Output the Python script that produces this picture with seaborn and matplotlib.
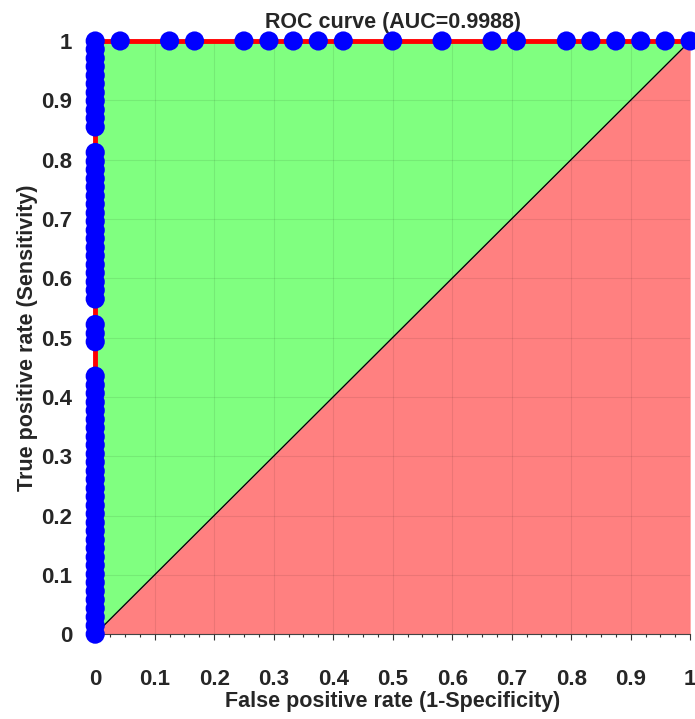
import numpy as np
import matplotlib
matplotlib.use("Agg")
import matplotlib.pyplot as plt
import seaborn as sns

# ROC points: first the x=0 column, then the top row
tpr_left = [0.0, 0.0145, 0.029, 0.0435, 0.058, 0.0725, 0.087, 0.101, 0.116, 0.130,
            0.145, 0.159, 0.174, 0.188, 0.203, 0.217, 0.232, 0.246, 0.261, 0.275,
            0.290, 0.304, 0.319, 0.333, 0.348, 0.362, 0.377, 0.391, 0.406, 0.420,
            0.435,
            0.493, 0.507, 0.522,
            0.565, 0.580, 0.594, 0.609, 0.623, 0.638, 0.652, 0.667, 0.681, 0.696,
            0.710, 0.725, 0.739, 0.754, 0.768, 0.783, 0.797, 0.812,
            0.855, 0.870, 0.884, 0.899, 0.913, 0.928, 0.942, 0.957, 0.971, 0.986, 1.0]
fpr_top = [0.042, 0.125, 0.167, 0.25, 0.292, 0.333, 0.375, 0.417, 0.5, 0.583,
           0.667, 0.708, 0.792, 0.833, 0.875, 0.917, 0.958, 1.0]

fpr = [0.0] * len(tpr_left) + fpr_top
tpr = tpr_left + [1.0] * len(fpr_top)

title = "ROC curve (AUC=0.9988)"
xlabel = "False positive rate (1-Specificity)"
ylabel = "True positive rate (Sensitivity)"
ticks = [0, 0.1, 0.2, 0.3, 0.4, 0.5, 0.6, 0.7, 0.8, 0.9, 1]
tick_labels = ["0", "0.1", "0.2", "0.3", "0.4", "0.5", "0.6", "0.7", "0.8", "0.9", "1"]

sns.set_style("white")
plt.rcParams['font.family'] = ['Liberation Sans Narrow', 'Liberation Sans', 'DejaVu Sans']
plt.rcParams['font.weight'] = 'bold'

fig = plt.figure(figsize=(6.95, 7.19), dpi=100)
ax = fig.add_axes([0.137, 0.118, 0.856, 0.825])

# red area under chance line, green between curve and chance line
ax.fill_between([0, 1], [0, 1], 0, color="#ff8080", lw=0, zorder=1)
ax.fill(fpr + [0.0], tpr + [0.0], color="#80ff80", lw=0, zorder=1)
ax.plot([0, 1], [0, 1], color="black", lw=1, zorder=2)

sns.lineplot(x=fpr, y=tpr, sort=False, estimator=None, color="red", lw=3.5,
             ax=ax, zorder=3, clip_on=False)
sns.scatterplot(x=fpr, y=tpr, color="blue", s=190, edgecolor="none", ax=ax,
                zorder=4, clip_on=False)

ax.set_xlim(0, 1)
ax.set_ylim(0, 1)
ax.set_xticks(ticks)
ax.set_xticklabels(tick_labels)
ax.set_yticks(ticks)
ax.set_yticklabels(tick_labels)
ax.set_xticks(np.arange(0, 1.001, 0.025), minor=True)
ax.tick_params(axis="both", labelsize=16)
ax.tick_params(axis="x", which="both", direction="out", bottom=True, length=4, width=0.8,
               color="#333333", pad=21)
ax.tick_params(axis="x", which="minor", length=2.5)
ax.tick_params(axis="y", left=False, pad=13)
for lab in ax.get_xticklabels() + ax.get_yticklabels():
    lab.set_fontweight("bold")
    lab.set_color("#262626")

ax.grid(True, color="black", alpha=0.08, lw=0.8)
ax.set_axisbelow(False)
for s in ax.spines.values():
    s.set_visible(False)
ax.spines["bottom"].set_visible(True)
ax.spines["bottom"].set_color("#444444")
ax.spines["bottom"].set_linewidth(0.8)

ax.set_title(title, fontsize=15.5, fontweight="bold", pad=9, color="#262626")
ax.set_xlabel(xlabel, fontsize=15.5, fontweight="bold", labelpad=1, color="#262626")
ax.set_ylabel(ylabel, fontsize=15.5, fontweight="bold", labelpad=2, color="#262626")

fig.savefig("out.png", dpi=100)
